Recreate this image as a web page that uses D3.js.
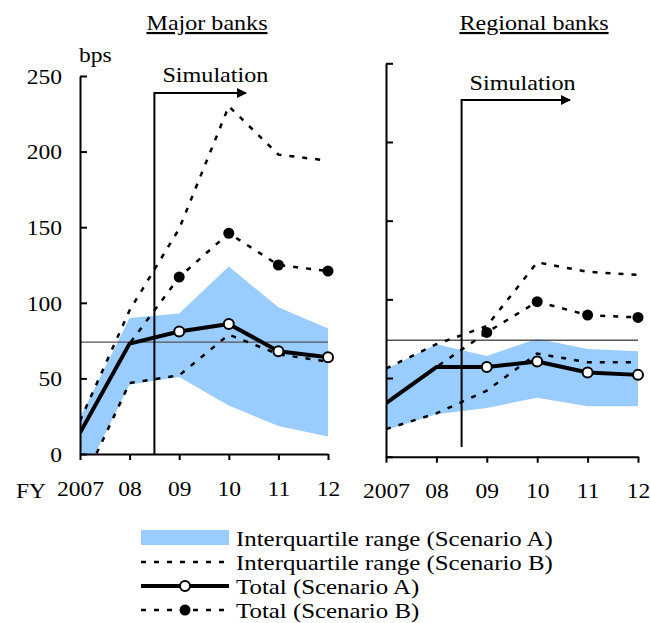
<!DOCTYPE html>
<html>
<head>
<meta charset="utf-8">
<script src="https://cdn.jsdelivr.net/npm/d3@7"></script>
<style>
  body { margin: 0; background: #fff; }
  text { font-family: "Liberation Serif", "Times New Roman", serif; fill: #000; }
</style>
</head>
<body>
<script>
// values (bps)
let years = [2007, 2008, 2009, 2010, 2011, 2012];
let yearLabels = ["2007", "08", "09", "10", "11", "12"];
let yTicks = [0, 50, 100, 150, 200, 250];
let benchmark = 74;
let simStart = 2008.5;

let majorIqrALow = [-20, 46, 51, 32, 18.5, 11.5];
let majorIqrAHigh = [24, 90, 93, 124, 97, 83];
let majorIqrBLow = [-23, 47, 52, 79, 66, 61];
let majorIqrBHigh = [22, 95, 149, 230, 198, 194];
let majorTotalA = [14, 73, 81, 86, 68, 64];
let majorTotalB = [14, 73, 117, 146, 125, 121];

let regionalIqrALow = [17, 27, 31, 37.5, 32, 32];
let regionalIqrAHigh = [55.5, 71.5, 64, 75, 68.5, 67];
let regionalIqrBLow = [17.5, 27.5, 42, 65.5, 60, 60];
let regionalIqrBHigh = [56, 71.5, 83, 123.5, 117.5, 115.5];
let regionalTotalA = [34, 57, 57, 60.5, 53.5, 52];
let regionalTotalB = [34, 57, 79, 98.5, 90, 88.5];

let legendLabels = [
    "Interquartile range (Scenario A)",
    "Interquartile range (Scenario B)",
    "Total (Scenario A)",
    "Total (Scenario B)"
];

let blue = "#99ccff";
let dash = "5,8";
let stretch = 1.12;   // the original type is a bit wider than Times
let fontSize = 21;

let svg = d3.select("body")
    .append("svg")
    .attr("width", 650)
    .attr("height", 623);

// widen text glyphs a little
function widen(sel, k) {
    sel.each(function () {
        let len = this.getComputedTextLength();
        d3.select(this)
            .attr("textLength", len * (k || stretch))
            .attr("lengthAdjust", "spacingAndGlyphs");
    });
}

let panels = [
    { id: "major", title: "Major banks", titleX: 207, x0: 80, x1: 328, y0: 454, y1: 76, labels: true,
      aLow: majorIqrALow, aHigh: majorIqrAHigh, bLow: majorIqrBLow, bHigh: majorIqrBHigh,
      totA: majorTotalA, totB: majorTotalB, simTop: 93, simBottom: 454, arrowEnd: 246, simText: 82 },
    { id: "regional", title: "Regional banks", titleX: 534, x0: 386, x1: 638, y0: 456.7, y1: 63.3, labels: false,
      aLow: regionalIqrALow, aHigh: regionalIqrAHigh, bLow: regionalIqrBLow, bHigh: regionalIqrBHigh,
      totA: regionalTotalA, totB: regionalTotalB, simTop: 100, simBottom: 447, arrowEnd: 570, simText: 90 }
];

let defs = svg.append("defs");
defs.append("marker")
    .attr("id", "arrow")
    .attr("viewBox", "0 0 10 10")
    .attr("refX", 9)
    .attr("refY", 5)
    .attr("markerWidth", 6)
    .attr("markerHeight", 5)
    .attr("markerUnits", "strokeWidth")
    .attr("orient", "auto")
    .append("path")
    .attr("d", "M0,0L10,5L0,10Z")
    .attr("fill", "#000");

panels.forEach(function (p) {
    let x = d3.scaleLinear().domain([2007, 2012]).range([p.x0, p.x1]);
    let y = d3.scaleLinear().domain([0, 250]).range([p.y0, p.y1]);

    defs.append("clipPath")
        .attr("id", "clip-" + p.id)
        .append("rect")
        .attr("x", p.x0)
        .attr("y", p.y1 - 20)
        .attr("width", p.x1 - p.x0 + 1)
        .attr("height", p.y0 - p.y1 + 20);

    let g = svg.append("g").attr("clip-path", "url(#clip-" + p.id + ")");

    let area = d3.area()
        .x(function (d, i) { return x(years[i]); })
        .y0(function (d, i) { return y(p.aLow[i]); })
        .y1(function (d, i) { return y(p.aHigh[i]); });

    g.append("path")
        .datum(years)
        .attr("d", area)
        .attr("fill", blue);

    // benchmark line
    g.append("line")
        .attr("x1", x(2007))
        .attr("x2", x(2012))
        .attr("y1", y(benchmark))
        .attr("y2", y(benchmark))
        .attr("stroke", "#555")
        .attr("stroke-width", 1.3);

    let line = function (vals) {
        return d3.line()
            .x(function (d, i) { return x(years[i]); })
            .y(function (d) { return y(d); })(vals);
    };

    [p.bLow, p.bHigh, p.totB].forEach(function (vals) {
        g.append("path")
            .attr("d", line(vals))
            .attr("fill", "none")
            .attr("stroke", "#000")
            .attr("stroke-width", 2.5)
            .attr("stroke-dasharray", dash);
    });

    // simulation marker
    svg.append("path")
        .attr("d", "M" + x(simStart) + "," + p.simBottom + "V" + p.simTop + "H" + p.arrowEnd)
        .attr("fill", "none")
        .attr("stroke", "#000")
        .attr("stroke-width", 2)
        .attr("marker-end", "url(#arrow)");

    svg.append("text")
        .attr("x", x(simStart) + 8)
        .attr("y", p.simText)
        .attr("font-size", fontSize)
        .text("Simulation")
        .call(widen, 1.15);

    g.append("path")
        .attr("d", line(p.totA))
        .attr("fill", "none")
        .attr("stroke", "#000")
        .attr("stroke-width", 4)
        .attr("stroke-linejoin", "round");

    svg.append("g").selectAll("circle")
        .data(p.totB.slice(2))
        .enter()
        .append("circle")
        .attr("cx", function (d, i) { return x(years[i + 2]); })
        .attr("cy", function (d) { return y(d); })
        .attr("r", 5.5)
        .attr("fill", "#000");

    svg.append("g").selectAll("circle")
        .data(p.totA.slice(2))
        .enter()
        .append("circle")
        .attr("cx", function (d, i) { return x(years[i + 2]); })
        .attr("cy", function (d) { return y(d); })
        .attr("r", 5)
        .attr("fill", "#fff")
        .attr("stroke", "#000")
        .attr("stroke-width", 2);

    // axes
    let yAxis = d3.axisLeft(y)
        .tickValues(yTicks)
        .tickSizeInner(-7)
        .tickSizeOuter(0)
        .tickPadding(18)
        .tickFormat(p.labels ? d3.format("d") : "");

    let ya = svg.append("g")
        .attr("transform", "translate(" + p.x0 + ",0)")
        .call(yAxis);

    let xAxis = d3.axisBottom(x)
        .tickValues(years)
        .tickSizeInner(6)
        .tickSizeOuter(0)
        .tickPadding(22)
        .tickFormat(function (d, i) { return yearLabels[i]; });

    let xa = svg.append("g")
        .attr("transform", "translate(0," + p.y0 + ")")
        .call(xAxis);

    [ya, xa].forEach(function (a) {
        a.selectAll("path, line").attr("stroke", "#000").attr("stroke-width", 2);
        a.selectAll("text")
            .attr("font-family", null)
            .attr("font-size", fontSize)
            .attr("fill", "#000")
            .call(widen);
    });
    xa.selectAll("text").attr("dy", "0.65em");
    ya.selectAll("text").attr("dy", "0.35em");

    svg.append("text")
        .attr("x", p.titleX)
        .attr("y", 30)
        .attr("text-anchor", "middle")
        .attr("font-size", fontSize + 0.5)
        .attr("text-decoration", "underline")
        .text(p.title)
        .call(widen);
});

svg.append("text")
    .attr("x", 79)
    .attr("y", 62)
    .attr("font-size", fontSize)
    .text("bps")
    .call(widen);

svg.append("text")
    .attr("x", 46)
    .attr("y", 498)
    .attr("text-anchor", "end")
    .attr("font-size", fontSize)
    .text("FY")
    .call(widen);

// legend
let legend = svg.append("g").attr("transform", "translate(141,538)");
let rowGap = 24;
let legendW = 88;

legend.append("rect")
    .attr("x", 0).attr("y", -8)
    .attr("width", legendW).attr("height", 15)
    .attr("fill", blue);

legend.append("line")
    .attr("x1", 0).attr("x2", legendW)
    .attr("y1", rowGap).attr("y2", rowGap)
    .attr("stroke", "#000").attr("stroke-width", 2.5)
    .attr("stroke-dasharray", dash);

legend.append("line")
    .attr("x1", 0).attr("x2", legendW)
    .attr("y1", 2 * rowGap).attr("y2", 2 * rowGap)
    .attr("stroke", "#000").attr("stroke-width", 4);
legend.append("circle")
    .attr("cx", legendW / 2).attr("cy", 2 * rowGap).attr("r", 5)
    .attr("fill", "#fff").attr("stroke", "#000").attr("stroke-width", 2);

legend.append("line")
    .attr("x1", 0).attr("x2", legendW)
    .attr("y1", 3 * rowGap).attr("y2", 3 * rowGap)
    .attr("stroke", "#000").attr("stroke-width", 2.5)
    .attr("stroke-dasharray", dash);
legend.append("circle")
    .attr("cx", legendW / 2).attr("cy", 3 * rowGap).attr("r", 5.5)
    .attr("fill", "#000");

legend.selectAll(".lab")
    .data(legendLabels)
    .enter()
    .append("text")
    .attr("class", "lab")
    .attr("x", legendW + 7)
    .attr("y", function (d, i) { return i * rowGap + 7.5; })
    .attr("font-size", 22)
    .text(function (d) { return d; })
    .call(widen, 1.13);
</script>
</body>
</html>
